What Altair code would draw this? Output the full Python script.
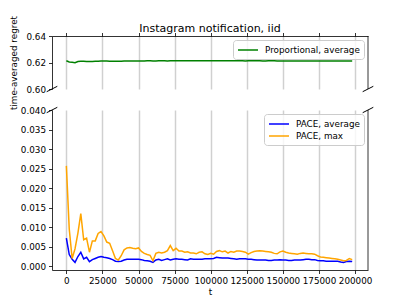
import altair as alt
import pandas as pd

# ---- data ----
t_values = list(range(0, 200000, 2000))  # 0 .. 198000

proportional_avg = [
    0.6213, 0.6204, 0.6202, 0.6199, 0.6208, 0.6209, 0.6209, 0.6208, 0.6208, 0.6208,
    0.6209, 0.6210, 0.6211, 0.6211, 0.6211, 0.6210, 0.6210, 0.6209, 0.6210, 0.6210,
    0.6211, 0.6212, 0.6212, 0.6212, 0.6211, 0.6211, 0.6212, 0.6212, 0.6213, 0.6213,
    0.6212, 0.6212, 0.6213, 0.6213, 0.6213, 0.6212, 0.6213, 0.6213, 0.6214, 0.6214,
    0.6213, 0.6213, 0.6213, 0.6214, 0.6214, 0.6214, 0.6213, 0.6213, 0.6213, 0.6214,
    0.6214, 0.6213, 0.6213, 0.6213, 0.6213, 0.6214, 0.6213, 0.6213, 0.6213, 0.6213,
    0.6213, 0.6213, 0.6212, 0.6213, 0.6213, 0.6213, 0.6213, 0.6213, 0.6212, 0.6212,
    0.6213, 0.6213, 0.6213, 0.6212, 0.6212, 0.6212, 0.6212, 0.6212, 0.6212, 0.6212,
    0.6212, 0.6212, 0.6212, 0.6212, 0.6212, 0.6211, 0.6211, 0.6212, 0.6212, 0.6211,
    0.6211, 0.6211, 0.6211, 0.6211, 0.6211, 0.6211, 0.6211, 0.6211, 0.6211, 0.6211,
]

pace_avg = [
    0.0072, 0.0030, 0.0018, 0.0010, 0.0025, 0.0036, 0.0019, 0.0023, 0.0012, 0.0017,
    0.0020, 0.0023, 0.0025, 0.0023, 0.0022, 0.0020, 0.0017, 0.0013, 0.0012, 0.0013,
    0.0016, 0.0018, 0.0018, 0.0018, 0.0018, 0.0018, 0.0017, 0.0015, 0.0014, 0.0013,
    0.0010, 0.0016, 0.0018, 0.0015, 0.0017, 0.0019, 0.0016, 0.0018, 0.0019, 0.0018,
    0.0018, 0.0017, 0.0016, 0.0019, 0.0018, 0.0018, 0.0018, 0.0018, 0.0019, 0.0019,
    0.0019, 0.0020, 0.0023, 0.0022, 0.0021, 0.0021, 0.0021, 0.0020, 0.0019, 0.0018,
    0.0019, 0.0019, 0.0019, 0.0018, 0.0018, 0.0017, 0.0016, 0.0016, 0.0016, 0.0016,
    0.0015, 0.0015, 0.0016, 0.0016, 0.0017, 0.0016, 0.0016, 0.0015, 0.0015, 0.0016,
    0.0016, 0.0016, 0.0017, 0.0018, 0.0018, 0.0017, 0.0017, 0.0015, 0.0014, 0.0014,
    0.0013, 0.0013, 0.0013, 0.0013, 0.0013, 0.0011, 0.0010, 0.0012, 0.0013, 0.0012,
]

pace_max = [
    0.0257, 0.0095, 0.0020, 0.0045, 0.0085, 0.0135, 0.0068, 0.0072, 0.0036, 0.0065,
    0.0065, 0.0084, 0.0089, 0.0078, 0.0062, 0.0059, 0.0040, 0.0020, 0.0016, 0.0027,
    0.0042, 0.0047, 0.0048, 0.0046, 0.0045, 0.0047, 0.0038, 0.0033, 0.0030, 0.0028,
    0.0014, 0.0033, 0.0036, 0.0034, 0.0036, 0.0040, 0.0053, 0.0040, 0.0046, 0.0039,
    0.0039, 0.0036, 0.0037, 0.0034, 0.0034, 0.0032, 0.0036, 0.0037, 0.0032, 0.0030,
    0.0033, 0.0031, 0.0038, 0.0040, 0.0037, 0.0039, 0.0034, 0.0038, 0.0036, 0.0039,
    0.0039, 0.0038, 0.0036, 0.0031, 0.0035, 0.0038, 0.0039, 0.0040, 0.0039, 0.0038,
    0.0037, 0.0036, 0.0033, 0.0032, 0.0037, 0.0039, 0.0036, 0.0034, 0.0033, 0.0032,
    0.0031, 0.0033, 0.0034, 0.0033, 0.0032, 0.0032, 0.0031, 0.0027, 0.0024, 0.0023,
    0.0022, 0.0021, 0.0020, 0.0019, 0.0018, 0.0016, 0.0014, 0.0015, 0.0020, 0.0017,
]

x_ticks = [0, 25000, 50000, 75000, 100000, 125000, 150000, 175000, 200000]
y_top_ticks = [0.60, 0.62, 0.64]
y_bottom_ticks = [0.0, 0.005, 0.010, 0.015, 0.020, 0.025, 0.030, 0.035, 0.040]

top_series = ["Proportional, average"]
bottom_series = ["PACE, average", "PACE, max"]

# ---- tables ----
df_top = pd.DataFrame({"t": t_values, "value": proportional_avg, "series": top_series[0]})
df_bottom = pd.concat([
    pd.DataFrame({"t": t_values, "value": pace_avg, "series": bottom_series[0]}),
    pd.DataFrame({"t": t_values, "value": pace_max, "series": bottom_series[1]}),
])
one = pd.DataFrame({"k": [0]})

W = 316
H_TOP = 53
H_BOT = 160
FONT = "DejaVu Sans"
X_DOMAIN = [-9950, 208950]

legend_common = dict(
    title=None, orient="top-right", offset=4,
    fillColor="rgba(255,255,255,0.8)", strokeColor="#cccccc", cornerRadius=3,
    padding=4, symbolType="M-1,0H3", symbolSize=100, symbolStrokeWidth=1.5,
    labelFontSize=8.8, labelFont=FONT, labelColor="black", labelOffset=16,
    rowPadding=1,
)

# ---------- top panel ----------
top_line = alt.Chart(df_top).mark_line(strokeWidth=1.5).encode(
    x=alt.X("t:Q", scale=alt.Scale(domain=X_DOMAIN, nice=False, zero=False),
            axis=alt.Axis(orient="top", labels=False, title=None, values=x_ticks,
                          grid=True, domain=True, ticks=True)),
    y=alt.Y("value:Q", scale=alt.Scale(domain=[0.60, 0.64], nice=False, zero=False),
            axis=alt.Axis(values=y_top_ticks, format=".2f", title="time-averaged regret",
                          grid=False, titlePadding=7)),
    color=alt.Color("series:N", scale=alt.Scale(domain=top_series, range=["#008000"]),
                    legend=alt.Legend(**legend_common)),
)

def spine_right(h):
    return alt.Chart(one).mark_rule(color="black", strokeWidth=0.8).encode(
        x=alt.value(W), y=alt.value(0), y2=alt.value(h))

def break_mark(x0, y0):
    return alt.Chart(one).mark_rule(color="black", strokeWidth=1).encode(
        x=alt.value(x0 - 5.3), x2=alt.value(x0 + 5.3),
        y=alt.value(y0 + 2.7), y2=alt.value(y0 - 2.7))

top = alt.layer(
    top_line, spine_right(H_TOP), break_mark(0, H_TOP), break_mark(W, H_TOP)
).properties(
    width=W, height=H_TOP,
    title=alt.Title("Instagram notification, iid", fontSize=11, fontWeight="normal",
                    font=FONT, color="black", offset=-19),
)

# ---------- bottom panel ----------
bot_line = alt.Chart(df_bottom).mark_line(strokeWidth=1.5).encode(
    x=alt.X("t:Q", scale=alt.Scale(domain=X_DOMAIN, nice=False, zero=False),
            axis=alt.Axis(orient="bottom", values=x_ticks, format="d", title="t",
                          grid=True, titlePadding=2)),
    y=alt.Y("value:Q", scale=alt.Scale(domain=[-0.00095, 0.040], nice=False, zero=False),
            axis=alt.Axis(values=y_bottom_ticks, format=".3f", title=None, grid=False)),
    color=alt.Color("series:N", scale=alt.Scale(domain=bottom_series, range=["#0000ff", "#ffa500"]),
                    legend=alt.Legend(**legend_common)),
    order=alt.Order("series:N"),
)

bottom = alt.layer(
    bot_line, spine_right(H_BOT), break_mark(0, 0), break_mark(W, 0)
).properties(width=W, height=H_BOT)

chart = alt.vconcat(top, bottom, spacing=21, bounds="flush").resolve_scale(
    color="independent", x="independent", y="independent"
).resolve_legend(color="independent").properties(
    padding={"left": 1, "top": 7, "right": 5, "bottom": 5}
).configure_view(stroke=None).configure_axis(
    labelFont=FONT, labelFontSize=8.8, labelColor="black",
    titleFont=FONT, titleFontSize=8.8, titleFontWeight="normal", titleColor="black",
    domainColor="black", domainWidth=0.8, tickColor="black", tickWidth=0.8,
    tickSize=3.5, labelPadding=3, gridColor="#d0d0d0", gridWidth=1.5,
    labelOverlap=False, labelFlush=False,
)

chart.save("out.html", embed_options={"renderer": "svg", "actions": False})
